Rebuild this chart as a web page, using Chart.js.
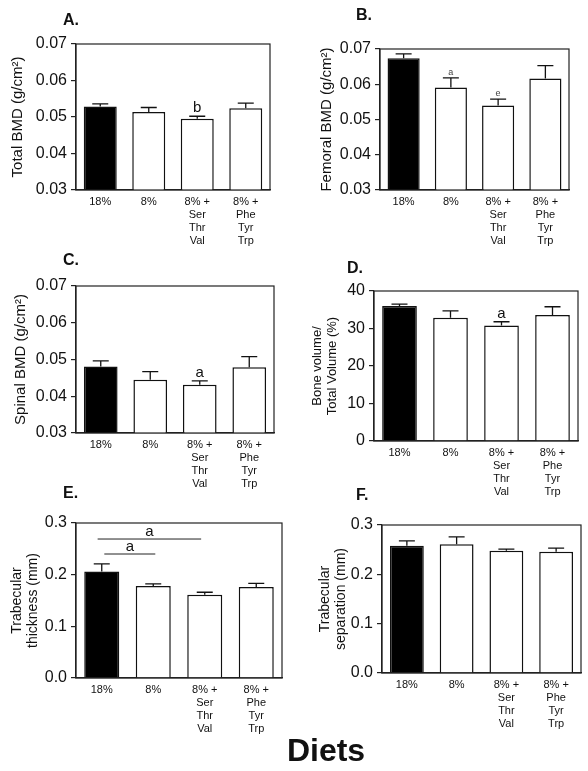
<!DOCTYPE html>
<html><head><meta charset="utf-8">
<script src="https://cdn.jsdelivr.net/npm/chart.js@4.4.0/dist/chart.umd.min.js"></script>
<style>
html,body{margin:0;padding:0;background:#fff;width:588px;height:771px;overflow:hidden;position:relative;font-family:"Liberation Sans",Arial,sans-serif;}
.w{position:absolute;}
.lbl{position:absolute;font-weight:bold;color:#111;line-height:1;white-space:nowrap;}
</style></head><body>
<script>
// ---------- data ----------
const categories = [['18%'], ['8%'], ['8% +', 'Ser', 'Thr', 'Val'], ['8% +', 'Phe', 'Tyr', 'Trp']];

const totalBMD      = [0.0529, 0.0514, 0.0495, 0.0524];
const totalBMDse    = [0.0007, 0.0012, 0.0007, 0.0014];
const totalBMDsig   = ['', '', 'b', ''];

const femoralBMD    = [0.0674, 0.0591, 0.0540, 0.0616];
const femoralBMDse  = [0.0012, 0.0027, 0.0018, 0.0037];
const femoralBMDsig = ['', 'a', 'e', ''];

const spinalBMD     = [0.0481, 0.0445, 0.0431, 0.0479];
const spinalBMDse   = [0.0015, 0.0022, 0.0011, 0.0029];
const spinalBMDsig  = ['', '', 'a', ''];

const boneVolume    = [36.0, 32.9, 30.8, 33.6];
const boneVolumeSe  = [0.5, 1.8, 1.0, 2.2];
const boneVolumeSig = ['', '', 'a', ''];

const trabThick     = [0.206, 0.178, 0.161, 0.176];
const trabThickSe   = [0.015, 0.004, 0.005, 0.007];
const trabThickSig  = ['', '', '', ''];
// significance brackets for panel E (category index from/to, y value, label)
const trabThickBarFrom  = [-0.08, 0.05];
const trabThickBarTo    = [1.93, 1.04];
const trabThickBarY     = [0.269, 0.240];
const trabThickBarLabel = ['a', 'a'];

const trabSep       = [0.258, 0.261, 0.248, 0.246];
const trabSepSe     = [0.010, 0.015, 0.003, 0.007];
const trabSepSig    = ['', '', '', ''];

const bmdTicks   = [0.03, 0.07, 0.01];
const bvTicks    = [0, 40, 10];
const trabTicks  = [0, 0.3, 0.1];

const panelLetters = ['A.', 'B.', 'C.', 'D.', 'E.', 'F.'];
const xTitle = 'Diets';

// ---------- layout ----------
const FONT = '"Liberation Sans", Arial, Helvetica, sans-serif';
const panels = [
  {letter: panelLetters[0], lx: 63, ly: 12, col: 0,   plot: {l: 76,  t: 44,  r: 270, b: 190},
   title: 'Total BMD (g/cm²)', tSize: 15, tCenter: 17.5,
   values: totalBMD, se: totalBMDse, sig: totalBMDsig, sigSize: 15, sigColor: '#111', ticks: bmdTicks, dec: 2},
  {letter: panelLetters[1], lx: 356, ly: 7, col: 294, plot: {l: 380, t: 49,  r: 569, b: 190},
   title: 'Femoral BMD (g/cm²)', tSize: 15, tCenter: 33,
   values: femoralBMD, se: femoralBMDse, sig: femoralBMDsig, sigSize: 9, sigColor: '#444', ticks: bmdTicks, dec: 2},
  {letter: panelLetters[2], lx: 63, ly: 252, col: 0,  plot: {l: 76,  t: 286, r: 274, b: 433},
   title: 'Spinal BMD (g/cm²)', tSize: 15, tCenter: 21,
   values: spinalBMD, se: spinalBMDse, sig: spinalBMDsig, sigSize: 15, sigColor: '#111', ticks: bmdTicks, dec: 2},
  {letter: panelLetters[3], lx: 347, ly: 260, col: 294, plot: {l: 374, t: 291, r: 578, b: 441},
   title: ['Bone volume/', 'Total Volume (%)'], tSize: 13, tCenter: 23.5,
   values: boneVolume, se: boneVolumeSe, sig: boneVolumeSig, sigSize: 15, sigColor: '#111', ticks: bvTicks, dec: 0},
  {letter: panelLetters[4], lx: 63, ly: 485, col: 0,  plot: {l: 76,  t: 523, r: 282, b: 678},
   title: ['Trabecular', 'thickness (mm)'], tSize: 14, tCenter: 17.5,
   values: trabThick, se: trabThickSe, sig: trabThickSig, sigSize: 15, sigColor: '#111', ticks: trabTicks, dec: 1,
   brackets: {from: trabThickBarFrom, to: trabThickBarTo, y: trabThickBarY, label: trabThickBarLabel}},
  {letter: panelLetters[5], lx: 356, ly: 487, col: 294, plot: {l: 382, t: 525, r: 581, b: 673},
   title: ['Trabecular', 'separation (mm)'], tSize: 14, tCenter: 31.5,
   values: trabSep, se: trabSepSe, sig: trabSepSig, sigSize: 15, sigColor: '#111', ticks: trabTicks, dec: 1}
];

const TOPPAD = 40, XH = 78;

panels.forEach((p, idx) => {
  const wx = p.col, wy = p.plot.t - TOPPAD, ww = 294, wh = (p.plot.b - p.plot.t) + TOPPAD + XH;
  const div = document.createElement('div');
  div.className = 'w';
  div.style.cssText = `left:${wx}px;top:${wy}px;width:${ww}px;height:${wh}px;`;
  const cv = document.createElement('canvas');
  div.appendChild(cv);
  document.body.appendChild(div);

  const lab = document.createElement('div');
  lab.className = 'lbl';
  lab.style.cssText = `left:${p.lx}px;top:${p.ly}px;font-size:16px;font-family:${FONT};`;
  lab.textContent = p.letter;
  document.body.appendChild(lab);

  const yW = p.plot.l - wx;
  const padR = wx + ww - p.plot.r;
  const lineH = p.tSize * 1.15;
  const titlePad = p.tCenter - lineH / 2;

  const extras = {
    id: 'extras' + idx,
    afterDatasetsDraw(chart) {
      const ctx = chart.ctx, ys = chart.scales.y, xs = chart.scales.x;
      const meta = chart.getDatasetMeta(0);
      ctx.save();
      ctx.strokeStyle = '#111';
      ctx.lineWidth = 1.3;
      meta.data.forEach((bar, i) => {
        const top = ys.getPixelForValue(p.values[i] + p.se[i]);
        ctx.beginPath();
        ctx.moveTo(bar.x, bar.y);
        ctx.lineTo(bar.x, top);
        ctx.moveTo(bar.x - 8, top);
        ctx.lineTo(bar.x + 8, top);
        ctx.stroke();
        if (p.sig[i]) {
          ctx.fillStyle = p.sigColor;
          ctx.font = `${p.sigSize}px ${FONT}`;
          ctx.textAlign = 'center';
          ctx.textBaseline = 'alphabetic';
          ctx.fillText(p.sig[i], bar.x, top - (p.sigSize < 12 ? 3 : 4));
        }
      });
      if (p.brackets) {
        const b = p.brackets;
        ctx.lineWidth = 1;
        ctx.strokeStyle = '#222';
        b.from.forEach((f, k) => {
          const x1 = xs.getPixelForValue(f), x2 = xs.getPixelForValue(b.to[k]);
          const y = ys.getPixelForValue(b.y[k]);
          ctx.beginPath(); ctx.moveTo(x1, y); ctx.lineTo(x2, y); ctx.stroke();
          ctx.fillStyle = '#111';
          ctx.font = `15px ${FONT}`;
          ctx.textAlign = 'center';
          ctx.textBaseline = 'alphabetic';
          ctx.fillText(b.label[k], (x1 + x2) / 2, y - 3);
        });
      }
      ctx.restore();
    },
    afterDraw(chart) {
      const a = chart.chartArea, ctx = chart.ctx;
      ctx.save();
      ctx.strokeStyle = '#222';
      ctx.lineWidth = 1.2;
      ctx.strokeRect(a.left, a.top, a.right - a.left, a.bottom - a.top);
      ctx.restore();
    }
  };

  new Chart(cv, {
    type: 'bar',
    data: {
      labels: categories,
      datasets: [{
        data: p.values,
        backgroundColor: ['#000', '#fff', '#fff', '#fff'],
        borderColor: '#111',
        borderWidth: 1.5,
        barPercentage: 0.68,
        categoryPercentage: 1.0
      }]
    },
    options: {
      responsive: true,
      maintainAspectRatio: false,
      animation: false,
      devicePixelRatio: 1,
      layout: {padding: {top: TOPPAD, right: padR, left: 0, bottom: 0}},
      plugins: {legend: {display: false}, tooltip: {enabled: false}, title: {display: false}},
      scales: {
        x: {
          type: 'category',
          offset: true,
          grid: {display: false, drawTicks: false},
          border: {display: true, color: '#222', width: 1.2},
          ticks: {color: '#111', font: {family: FONT, size: 11, lineHeight: 1.2}, padding: 5,
                  maxRotation: 0, minRotation: 0, autoSkip: false},
          afterFit: s => { s.height = XH; }
        },
        y: {
          min: p.ticks[0], max: p.ticks[1],
          grid: {display: true, drawOnChartArea: false, drawTicks: true, tickLength: 5, color: '#222', lineWidth: 1.2},
          border: {display: true, color: '#222', width: 1.2},
          ticks: {stepSize: p.ticks[2], color: '#111', padding: 4,
                  font: {family: FONT, size: 16},
                  callback: v => Number(v).toFixed(p.dec)},
          title: {display: true, text: p.title, color: '#111',
                  font: {family: FONT, size: p.tSize, lineHeight: 1.15},
                  padding: {top: titlePad, bottom: 0}},
          afterFit: s => { s.width = yW; }
        }
      }
    },
    plugins: [extras]
  });
});

const dl = document.createElement('div');
dl.className = 'lbl';
dl.style.cssText = `left:0;width:652px;top:734px;text-align:center;font-size:32px;font-family:${FONT};`;
dl.textContent = xTitle;
document.body.appendChild(dl);
</script>
</body></html>
